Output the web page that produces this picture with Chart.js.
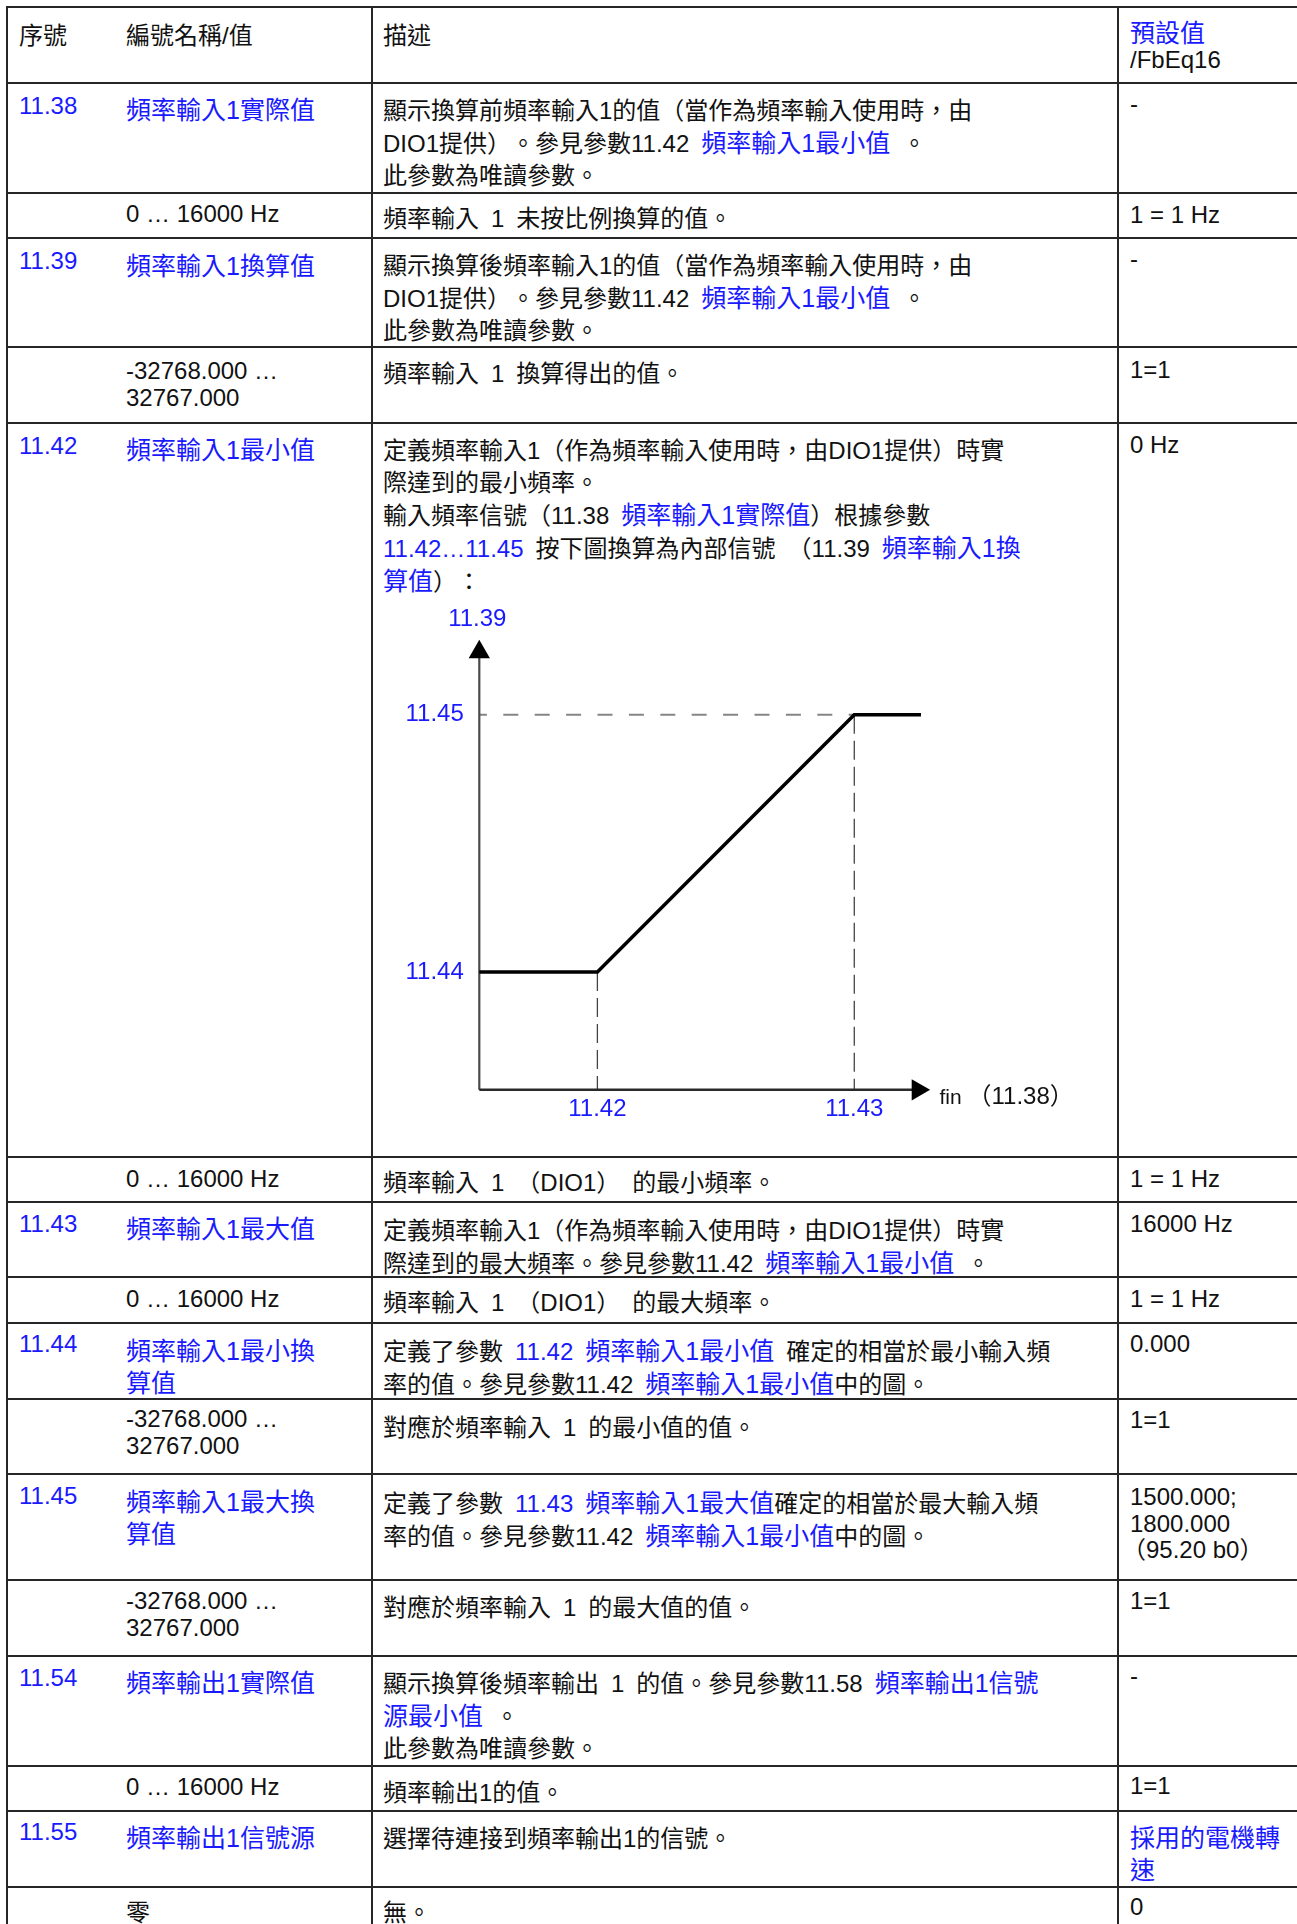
<!DOCTYPE html>
<html>
<head>
<meta charset="utf-8">
<script src="https://cdn.jsdelivr.net/npm/chart.js@4.4.1/dist/chart.umd.min.js"></script>
<style>
  body { margin:0; width:1297px; height:1924px; overflow:hidden; background:#fff; position:relative;
         font-family:"Liberation Sans","Noto Sans CJK TC",sans-serif; font-size:24px; color:#111;
         text-spacing-trim:space-all; }
  .t { position:absolute; white-space:nowrap; line-height:32.2px; }
  .l { line-height:27px; }
  .k { line-height:26.5px; }
  .b { color:#1a1aff; }
  .n { color:#1a1aff; font-size:25px; }
  .h { position:absolute; left:6px; right:0; height:2px; background:#262626; }
  .v { position:absolute; top:6px; bottom:0; width:2px; background:#262626; }
  #curve { position:absolute; left:380px; top:590px; }
</style>
</head>
<body>
<!-- 表格線 -->
<div class="h" style="top:6px"></div>
<div class="h" style="top:82px"></div>
<div class="h" style="top:192px"></div>
<div class="h" style="top:237px"></div>
<div class="h" style="top:346px"></div>
<div class="h" style="top:422px"></div>
<div class="h" style="top:1156px"></div>
<div class="h" style="top:1201px"></div>
<div class="h" style="top:1276px"></div>
<div class="h" style="top:1322px"></div>
<div class="h" style="top:1398px"></div>
<div class="h" style="top:1473px"></div>
<div class="h" style="top:1579px"></div>
<div class="h" style="top:1655px"></div>
<div class="h" style="top:1765px"></div>
<div class="h" style="top:1810px"></div>
<div class="h" style="top:1886px"></div>
<div class="v" style="left:6px"></div>
<div class="v" style="left:371px"></div>
<div class="v" style="left:1117px"></div>

<!-- 表頭 -->
<div class="t" style="left:19px;top:19.5px">序號</div>
<div class="t" style="left:126px;top:19.5px">編號名稱/值</div>
<div class="t" style="left:383px;top:19.5px">描述</div>
<div class="t k" style="left:1130px;top:19.5px"><span class="n">預設值</span><br>/FbEq16</div>

<!-- 11.38 -->
<div class="t b" style="left:19px;top:89.5px">11.38</div>
<div class="t n" style="left:126px;top:93.5px">頻率輸入1實際值</div>
<div class="t" style="left:383px;top:94.5px">顯示換算前頻率輸入1的值（當作為頻率輸入使用時，由<br>DIO1提供）。參見參數11.42&ensp;<span class="n">頻率輸入1最小值</span>&ensp;。<br>此參數為唯讀參數。</div>
<div class="t" style="left:1130px;top:88px">-</div>

<div class="t" style="left:126px;top:198px">0 … 16000 Hz</div>
<div class="t" style="left:383px;top:202.5px">頻率輸入&ensp;1&ensp;未按比例換算的值。</div>
<div class="t" style="left:1130px;top:199px">1 = 1 Hz</div>

<!-- 11.39 -->
<div class="t b" style="left:19px;top:244.5px">11.39</div>
<div class="t n" style="left:126px;top:249.5px">頻率輸入1換算值</div>
<div class="t" style="left:383px;top:249.5px">顯示換算後頻率輸入1的值（當作為頻率輸入使用時，由<br>DIO1提供）。參見參數11.42&ensp;<span class="n">頻率輸入1最小值</span>&ensp;。<br>此參數為唯讀參數。</div>
<div class="t" style="left:1130px;top:243px">-</div>

<div class="t l" style="left:126px;top:356.8px">-32768.000 …<br>32767.000</div>
<div class="t" style="left:383px;top:357.5px">頻率輸入&ensp;1&ensp;換算得出的值。</div>
<div class="t" style="left:1130px;top:354px">1=1</div>

<!-- 11.42 -->
<div class="t b" style="left:19px;top:429.5px">11.42</div>
<div class="t n" style="left:126px;top:434px">頻率輸入1最小值</div>
<div class="t" style="left:383px;top:434.5px">定義頻率輸入1（作為頻率輸入使用時，由DIO1提供）時實<br>際達到的最小頻率。<br>輸入頻率信號（11.38&ensp;<span class="n">頻率輸入1實際值</span>）根據參數<br><span class="b">11.42…11.45</span>&ensp;按下圖換算為內部信號&ensp;（11.39&ensp;<span class="n">頻率輸入1換</span><br><span class="n">算值</span>）：</div>
<div class="t" style="left:1130px;top:428.5px">0 Hz</div>

<div class="t" style="left:126px;top:1163px">0 … 16000 Hz</div>
<div class="t" style="left:383px;top:1166.5px">頻率輸入&ensp;1&ensp;（DIO1）&ensp;的最小頻率。</div>
<div class="t" style="left:1130px;top:1163px">1 = 1 Hz</div>

<!-- 11.43 -->
<div class="t b" style="left:19px;top:1208px">11.43</div>
<div class="t n" style="left:126px;top:1212.5px">頻率輸入1最大值</div>
<div class="t" style="left:383px;top:1214.5px">定義頻率輸入1（作為頻率輸入使用時，由DIO1提供）時實<br>際達到的最大頻率。參見參數11.42&ensp;<span class="n">頻率輸入1最小值</span>&ensp;。</div>
<div class="t" style="left:1130px;top:1208px">16000 Hz</div>

<div class="t" style="left:126px;top:1283px">0 … 16000 Hz</div>
<div class="t" style="left:383px;top:1287px">頻率輸入&ensp;1&ensp;（DIO1）&ensp;的最大頻率。</div>
<div class="t" style="left:1130px;top:1283px">1 = 1 Hz</div>

<!-- 11.44 -->
<div class="t b" style="left:19px;top:1328px">11.44</div>
<div class="t n" style="left:126px;top:1334.5px">頻率輸入1最小換<br>算值</div>
<div class="t" style="left:383px;top:1334.5px">定義了參數&ensp;<span class="b">11.42</span>&ensp;<span class="n">頻率輸入1最小值</span>&ensp;確定的相當於最小輸入頻<br>率的值。參見參數11.42&ensp;<span class="n">頻率輸入1最小值</span>中的圖。</div>
<div class="t" style="left:1130px;top:1328px">0.000</div>

<div class="t l" style="left:126px;top:1405.3px">-32768.000 …<br>32767.000</div>
<div class="t" style="left:383px;top:1411.5px">對應於頻率輸入&ensp;1&ensp;的最小值的值。</div>
<div class="t" style="left:1130px;top:1404px">1=1</div>

<!-- 11.45 -->
<div class="t b" style="left:19px;top:1479.5px">11.45</div>
<div class="t n" style="left:126px;top:1485.5px">頻率輸入1最大換<br>算值</div>
<div class="t" style="left:383px;top:1486.5px">定義了參數&ensp;<span class="b">11.43</span>&ensp;<span class="n">頻率輸入1最大值</span>確定的相當於最大輸入頻<br>率的值。參見參數11.42&ensp;<span class="n">頻率輸入1最小值</span>中的圖。</div>
<div class="t k" style="left:1130px;top:1484.3px">1500.000;<br>1800.000<br><span style="margin-left:-8px">（95.20 b0）</span></div>

<div class="t l" style="left:126px;top:1587.3px">-32768.000 …<br>32767.000</div>
<div class="t" style="left:383px;top:1591.5px">對應於頻率輸入&ensp;1&ensp;的最大值的值。</div>
<div class="t" style="left:1130px;top:1585px">1=1</div>

<!-- 11.54 -->
<div class="t b" style="left:19px;top:1661.5px">11.54</div>
<div class="t n" style="left:126px;top:1666.5px">頻率輸出1實際值</div>
<div class="t" style="left:383px;top:1666.5px">顯示換算後頻率輸出&ensp;1&ensp;的值。參見參數11.58&ensp;<span class="n">頻率輸出1信號</span><br><span class="n">源最小值</span>&ensp;。<br>此參數為唯讀參數。</div>
<div class="t" style="left:1130px;top:1660px">-</div>

<div class="t" style="left:126px;top:1770.5px">0 … 16000 Hz</div>
<div class="t" style="left:383px;top:1777px">頻率輸出1的值。</div>
<div class="t" style="left:1130px;top:1770px">1=1</div>

<!-- 11.55 -->
<div class="t b" style="left:19px;top:1815.5px">11.55</div>
<div class="t n" style="left:126px;top:1822px">頻率輸出1信號源</div>
<div class="t" style="left:383px;top:1822.5px">選擇待連接到頻率輸出1的信號。</div>
<div class="t n" style="left:1130px;top:1821.5px">採用的電機轉<br>速</div>

<div class="t" style="left:126px;top:1896.5px">零</div>
<div class="t" style="left:383px;top:1897px">無。</div>
<div class="t" style="left:1130px;top:1890.5px">0</div>

<canvas id="curve" width="720" height="550"></canvas>

<script>
const FONT = '"Liberation Sans", "Noto Sans CJK TC", sans-serif'
const BLUE = '#1a1aff'

// 換算曲線: 11.38 fin (x) -> 11.39 (y)
const finInput = [0, 26.2, 83.2, 98]
const scaledOut = [26.2, 26.2, 83.4, 83.4]

// 刻度
const xTickValues = [26.2, 83.2]
const xTickLabels = ['11.42', '11.43']
const yTickValues = [26.2, 83.4]
const yTickLabels = ['11.44', '11.45']

const axisMax = 100
const arrowAt = 97.3   // 箭頭三角形的中心

const seg = (data, color, width, extra) => Object.assign({
    data: data, showLine: true, borderColor: color, borderWidth: width,
    pointRadius: 0, fill: false, clip: false
}, extra)

const arrow = {
    pointStyle: 'triangle', pointRadius: [0, 12.3],
    pointBackgroundColor: '#000', pointBorderColor: '#000', pointBorderWidth: 0
}

const datasets = [
    // 曲線 (最上層)
    seg(finInput.map((x, i) => ({x: x, y: scaledOut[i]})), '#000', 3.5),
    // x 軸 + 箭頭
    seg([{x: 0, y: 0}, {x: arrowAt, y: 0}], '#2a2a2a', 2.4, Object.assign({pointRotation: 90}, arrow)),
    // y 軸 + 箭頭
    seg([{x: 0, y: 0}, {x: 0, y: arrowAt}], '#4a4a4a', 2.2, Object.assign({pointRotation: 0}, arrow)),
    // 11.45 水平虛線
    seg([{x: 0, y: yTickValues[1]}, {x: xTickValues[1], y: yTickValues[1]}], '#858585', 2,
        {borderDash: [15, 16.4], borderDashOffset: 7.4}),
    // 11.42 / 11.43 垂直虛線
    seg([{x: xTickValues[0], y: yTickValues[0]}, {x: xTickValues[0], y: 0}], '#444', 1.3, {borderDash: [19, 7]}),
    seg([{x: xTickValues[1], y: yTickValues[1]}, {x: xTickValues[1], y: 0}], '#444', 1.3, {borderDash: [19, 7]})
]

// 軸名稱: 11.39 在 y 軸箭頭上方, fin (11.38) 在 x 軸箭頭右邊
const axisTitles = {
    id: 'axisTitles',
    afterDraw(chart) {
        const ctx = chart.ctx
        const x = chart.scales.x, y = chart.scales.y
        ctx.save()
        ctx.textBaseline = 'alphabetic'
        ctx.fillStyle = BLUE
        ctx.font = '24px ' + FONT
        ctx.textAlign = 'center'
        ctx.fillText('11.39', x.getPixelForValue(0) - 2, y.getPixelForValue(axisMax) - 14)
        ctx.textAlign = 'left'
        ctx.fillStyle = '#111'
        const x0 = x.getPixelForValue(axisMax) + 9.5
        const y0 = y.getPixelForValue(0) + 13.7
        ctx.font = '21px ' + FONT
        ctx.fillText('fin', x0, y0)
        const w = ctx.measureText('fin ').width
        ctx.font = '24px ' + FONT
        ctx.fillText('（11.38）', x0 + w, y0)
        ctx.restore()
    }
}

const tickFont = {family: FONT, size: 24}

new Chart(document.getElementById('curve'), {
    type: 'scatter',
    data: {datasets: datasets},
    options: {
        responsive: false,
        animation: false,
        devicePixelRatio: 1,
        events: [],
        layout: {padding: {left: 0, right: 170, top: 50, bottom: 0}},
        plugins: {legend: {display: false}, tooltip: {enabled: false}},
        scales: {
            x: {
                type: 'linear', min: 0, max: axisMax,
                grid: {display: false, drawTicks: false},
                border: {display: false},
                ticks: {color: BLUE, font: tickFont, padding: 5, autoSkip: false, maxRotation: 0,
                        callback: (v, i) => xTickLabels[i]},
                afterBuildTicks: s => { s.ticks = xTickValues.map(v => ({value: v})) },
                afterFit: s => { s.height = 50.2 }
            },
            y: {
                type: 'linear', min: 0, max: axisMax,
                grid: {display: false, drawTicks: false},
                border: {display: false},
                ticks: {color: BLUE, font: tickFont, padding: 15.5, autoSkip: false,
                        callback: (v, i) => yTickLabels[i]},
                afterBuildTicks: s => { s.ticks = yTickValues.map(v => ({value: v})) },
                afterFit: s => { s.width = 99.3 }
            }
        }
    },
    plugins: [axisTitles]
})
</script>
</body>
</html>
